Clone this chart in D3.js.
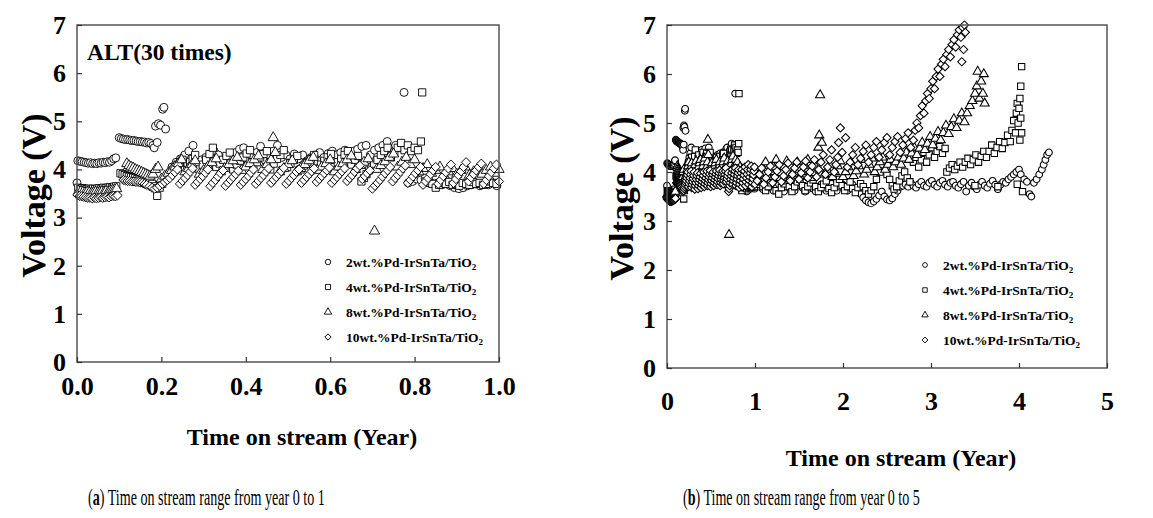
<!DOCTYPE html>
<html>
<head>
<meta charset="utf-8">
<script src="https://cdn.jsdelivr.net/npm/d3@7"></script>
<style>
  body { margin: 0; background: #fff; }
  svg { display: block; }
  text { font-family: "Liberation Serif", "Times New Roman", serif; font-weight: bold; fill: #000; }
  .caption { font-weight: normal; }
</style>
</head>
<body>
<svg id="chart" width="1153" height="518"></svg>
<script>

// series labels (legend order)
var seriesNames = ["2wt.%Pd-IrSnTa/TiO", "4wt.%Pd-IrSnTa/TiO", "8wt.%Pd-IrSnTa/TiO", "10wt.%Pd-IrSnTa/TiO"];

// [time on stream (year), voltage (V)]
var circ2 = [
  [0,3.72],[0.002,4.18],[0.007,4.17],[0.012,4.16],[0.017,4.15],[0.022,4.14],[0.027,4.13],[0.032,4.14],[0.037,4.12],[0.042,4.13],
  [0.047,4.12],[0.052,4.14],[0.057,4.13],[0.062,4.15],[0.067,4.14],[0.072,4.16],[0.077,4.15],[0.082,4.18],[0.087,4.22],[0.092,4.24],
  [0.1,4.66],[0.105,4.64],[0.11,4.63],[0.115,4.62],[0.12,4.62],[0.125,4.61],[0.13,4.6],[0.135,4.6],[0.14,4.59],[0.145,4.58],
  [0.15,4.58],[0.155,4.57],[0.16,4.57],[0.165,4.55],[0.17,4.56],[0.175,4.54],[0.18,4.5],[0.183,4.45],[0.186,4.9],[0.19,4.56],
  [0.193,4.95],[0.198,4.92],[0.203,5.25],[0.206,5.29],[0.21,4.84],
  [0.225,4.05],[0.235,4.15],[0.245,4.22],[0.255,4.3],[0.265,4.38],[0.275,4.5],[0.285,4.12],[0.295,4.2],[0.305,4.25],[0.315,4.32],
  [0.325,4.38],[0.335,4.3],[0.345,4.12],[0.355,4.2],[0.365,4.28],[0.375,4.35],[0.385,4.42],[0.395,4.45],[0.405,4.18],[0.415,4.25],
  [0.425,4.35],[0.435,4.48],[0.445,4.2],[0.455,4.3],[0.465,4.38],[0.475,4.5],[0.485,4.25],[0.495,4.3],[0.505,4.22],[0.515,4.32],
  [0.525,4.22],[0.535,4.3],[0.545,4.18],[0.555,4.25],[0.565,4.3],[0.575,4.35],[0.585,4.25],[0.595,4.33],[0.605,4.38],[0.615,4.3],
  [0.625,4.35],[0.635,4.4],[0.645,4.3],[0.655,4.38],[0.665,4.42],[0.675,4.48],[0.685,4.5],[0.695,4.3],[0.705,4.4],[0.715,4.45],
  [0.725,4.5],[0.735,4.58],[0.745,4.42],[0.755,4.5],[0.765,4.45],[0.775,5.6],
  [0.785,3.72],[0.795,3.75],[0.805,3.8],[0.815,3.78],[0.825,3.82],[0.835,3.75],[0.845,3.7],[0.855,3.72],[0.865,3.68],[0.875,3.7],
  [0.885,3.66],[0.895,3.62],[0.905,3.6],[0.915,3.62],[0.925,3.66],[0.935,3.68],[0.945,3.7],[0.955,3.66],[0.965,3.7],[0.975,3.68],
  [0.985,3.72],[0.995,3.66],
  [1.03,3.7],[1.06,3.75],[1.09,3.65],[1.12,3.72],[1.15,3.78],[1.18,3.68],[1.21,3.62],[1.24,3.7],[1.27,3.76],[1.3,3.66],
  [1.33,3.6],[1.36,3.7],[1.39,3.75],[1.42,3.66],[1.45,3.62],[1.48,3.72],[1.51,3.78],[1.54,3.68],[1.57,3.6],[1.6,3.65],
  [1.63,3.72],[1.66,3.66],[1.69,3.6],[1.72,3.68],[1.75,3.74],[1.78,3.66],[1.81,3.62],[1.84,3.7],[1.87,3.76],[1.9,3.68],
  [1.93,3.62],[1.96,3.7],[1.99,3.75],[2.02,3.66],[2.05,3.62],[2.08,3.7],[2.11,3.74],[2.14,3.65],[2.17,3.6],
  [2.2,3.55],[2.23,3.48],[2.26,3.42],[2.29,3.38],[2.32,3.36],[2.35,3.4],[2.38,3.45],[2.41,3.52],[2.44,3.6],[2.47,3.5],
  [2.5,3.44],[2.53,3.42],[2.56,3.46],[2.59,3.55],[2.62,3.62],[2.65,3.7],[2.68,3.72],
  [2.71,3.75],[2.74,3.7],[2.77,3.78],[2.8,3.72],[2.83,3.68],[2.86,3.75],[2.89,3.8],[2.92,3.72],[2.95,3.7],[2.98,3.78],
  [3.01,3.82],[3.04,3.74],[3.07,3.7],[3.1,3.78],[3.13,3.82],[3.16,3.74],[3.19,3.7],[3.22,3.78],[3.25,3.8],[3.28,3.72],
  [3.31,3.68],[3.34,3.75],[3.37,3.8],[3.4,3.6],[3.43,3.72],[3.46,3.78],[3.49,3.7],[3.52,3.65],[3.55,3.74],[3.58,3.8],
  [3.61,3.72],[3.64,3.68],[3.67,3.76],[3.7,3.82],[3.73,3.74],[3.76,3.65],[3.79,3.74],[3.82,3.8],[3.85,3.78],[3.88,3.85],
  [3.91,3.9],[3.94,3.95],[3.97,4.0],[4.0,4.05],[4.02,3.95],
  [4.06,3.85],[4.09,3.8],[4.12,3.55],[4.14,3.5],[4.17,3.78],[4.2,3.85],[4.23,3.95],[4.26,4.05],[4.28,4.15],[4.3,4.25],
  [4.32,4.35],[4.34,4.4]
];

var sq4 = [
  [0.003,3.62],[0.008,3.6],[0.013,3.61],[0.018,3.6],[0.023,3.59],[0.028,3.6],[0.033,3.58],[0.038,3.6],[0.043,3.59],[0.048,3.6],
  [0.053,3.61],[0.058,3.6],[0.063,3.62],[0.068,3.61],[0.073,3.62],[0.078,3.63],[0.083,3.62],[0.088,3.64],[0.093,3.65],
  [0.103,3.92],[0.108,3.9],[0.113,3.88],[0.118,3.86],[0.123,3.85],[0.128,3.84],[0.133,3.83],[0.138,3.82],[0.143,3.8],[0.148,3.79],
  [0.153,3.78],[0.158,3.77],[0.163,3.76],[0.168,3.75],[0.173,3.74],
  [0.178,3.7],[0.183,3.65],[0.19,3.45],[0.196,3.62],[0.202,3.7],[0.208,3.78],[0.214,3.85],[0.22,3.92],[0.226,3.98],[0.232,4.05],
  [0.238,4.1],[0.244,4.15],[0.25,4.2],[0.256,4.0],[0.262,4.08],[0.268,4.15],[0.274,4.22],[0.28,4.3],
  [0.29,4.0],[0.298,4.1],[0.306,4.2],[0.314,4.32],[0.322,4.45],[0.33,4.05],[0.338,4.12],[0.346,4.2],[0.354,4.28],[0.362,4.35],
  [0.37,4.0],[0.378,4.1],[0.386,4.18],[0.394,4.25],[0.402,4.33],[0.41,4.4],[0.418,4.05],[0.426,4.15],[0.434,4.25],[0.442,4.32],
  [0.45,4.38],[0.458,4.0],[0.466,4.12],[0.474,4.22],[0.482,4.3],[0.49,4.4],[0.498,4.05],[0.506,4.12],[0.514,4.2],[0.522,4.28],
  [0.53,4.0],[0.538,4.08],[0.546,4.15],[0.554,4.22],[0.562,4.3],[0.57,4.02],[0.578,4.1],[0.586,4.18],[0.594,4.25],[0.602,4.32],
  [0.61,4.05],[0.618,4.15],[0.626,4.22],[0.634,4.3],[0.642,4.38],[0.65,4.1],[0.658,4.2],[0.666,4.28],[0.674,3.75],[0.68,3.82],
  [0.686,3.9],[0.692,3.98],[0.698,4.05],[0.704,4.12],[0.712,4.2],[0.72,4.3],[0.728,4.38],[0.736,4.45],[0.744,4.25],[0.752,4.35],
  [0.76,4.45],[0.768,4.55],[0.776,4.4],[0.784,4.5],[0.792,4.38],[0.8,4.45],[0.808,4.4],[0.815,4.58],[0.818,5.6],
  [0.826,3.75],[0.834,3.72],[0.842,3.7],[0.85,3.62],[0.858,3.68],[0.866,3.72],[0.874,3.7],[0.882,3.74],[0.89,3.68],[0.898,3.7],
  [0.906,3.66],[0.914,3.72],[0.922,3.7],[0.93,3.68],[0.938,3.74],[0.946,3.7],[0.954,3.72],[0.962,3.68],[0.97,3.7],[0.978,3.75],
  [0.986,3.72],[0.994,3.7],
  [1.03,3.75],[1.06,3.8],[1.09,3.7],[1.12,3.62],[1.15,3.7],[1.18,3.78],[1.21,3.85],[1.24,3.62],[1.27,3.55],[1.3,3.68],
  [1.33,3.76],[1.36,3.82],[1.39,3.7],[1.42,3.6],[1.45,3.7],[1.48,3.8],[1.51,3.85],[1.54,3.72],[1.57,3.62],[1.6,3.7],
  [1.63,3.78],[1.66,3.84],[1.69,3.7],[1.72,3.6],[1.75,3.68],[1.78,3.75],[1.81,3.82],[1.84,3.66],[1.87,3.58],[1.9,3.68],
  [1.93,3.78],[1.96,3.85],[1.99,3.72],[2.02,3.62],[2.05,3.7],[2.08,3.8],[2.11,3.66],[2.14,3.58],[2.17,3.68],[2.2,3.76],
  [2.23,3.7],[2.26,3.62],[2.29,3.55],[2.32,3.62],[2.35,3.7],
  [2.38,3.85],[2.42,4.0],[2.45,4.15],[2.48,4.25],[2.5,3.95],[2.53,3.85],[2.56,3.72],[2.58,3.65],[2.61,3.7],[2.64,3.82],
  [2.67,3.92],[2.7,4.0],[2.73,3.88],[2.76,3.8],
  [2.8,4.2],[2.83,4.3],[2.86,4.1],[2.89,4.25],[2.92,4.4],[2.95,4.2],[2.98,4.35],[3.01,4.5],[3.04,4.3],[3.07,4.42],
  [3.1,4.52],[3.13,4.38],[3.16,4.48],
  [3.18,4.0],[3.21,4.08],[3.24,4.15],[3.27,4.05],[3.3,4.12],[3.33,4.2],[3.36,4.1],[3.39,4.2],[3.42,4.28],[3.45,4.15],
  [3.48,4.25],[3.5,3.72],[3.51,4.35],[3.54,4.2],[3.57,4.32],[3.6,4.42],[3.63,4.3],[3.66,4.42],[3.69,4.55],[3.72,4.38],
  [3.75,4.5],[3.76,3.7],[3.78,4.62],[3.81,4.48],[3.84,4.6],[3.87,4.75],[3.9,4.62],[3.92,4.85],[3.94,5.05],[3.96,4.8],
  [3.97,5.2],[3.98,5.4],[3.98,3.75],[3.99,5.0],[4.0,5.3],[4.01,4.65],[4.01,5.5],[4.02,5.1],[4.02,5.75],[4.03,6.15],
  [4.03,4.8],[4.04,3.6]
];

var tri8 = [
  [0.004,3.55],[0.009,3.54],[0.014,3.53],[0.019,3.52],[0.024,3.53],[0.029,3.52],[0.034,3.51],[0.039,3.52],[0.044,3.53],[0.049,3.52],
  [0.054,3.53],[0.059,3.54],[0.064,3.53],[0.069,3.55],[0.074,3.54],[0.079,3.56],[0.084,3.57],[0.089,3.58],[0.094,3.6],
  [0.118,4.12],[0.123,4.08],[0.128,4.05],[0.133,4.03],[0.138,4.0],[0.143,3.98],[0.148,3.96],[0.153,3.94],[0.158,3.92],[0.163,3.9],
  [0.168,3.88],[0.173,3.86],
  [0.18,3.9],[0.186,4.0],[0.192,4.05],[0.2,3.8],[0.208,3.86],[0.216,3.92],[0.224,3.98],[0.232,4.05],[0.24,4.12],[0.248,4.2],
  [0.256,3.95],[0.264,4.02],[0.272,4.1],[0.28,4.18],[0.29,3.9],[0.3,3.98],[0.31,4.06],[0.32,4.14],[0.33,4.22],[0.34,3.95],
  [0.35,4.02],[0.36,4.1],[0.37,4.18],[0.38,4.25],[0.39,3.98],[0.4,4.05],[0.41,4.12],[0.42,4.2],[0.43,4.28],[0.44,4.0],
  [0.45,4.1],[0.46,4.2],[0.465,4.66],[0.47,4.35],[0.48,3.95],[0.49,4.02],[0.5,4.1],[0.51,4.18],[0.52,3.95],[0.53,4.02],
  [0.54,4.1],[0.55,4.18],[0.56,4.25],[0.57,3.98],[0.58,4.05],[0.59,4.12],[0.6,4.2],[0.61,3.95],[0.62,4.05],[0.63,4.12],
  [0.64,4.2],[0.65,4.28],[0.66,4.0],[0.67,4.08],[0.68,4.15],[0.69,4.22],[0.705,2.72],[0.71,4.0],[0.72,4.08],[0.73,4.16],
  [0.74,4.25],[0.75,4.32],[0.76,4.05],[0.77,4.15],[0.78,4.25],[0.79,4.1],[0.8,4.2],
  [0.81,3.95],[0.82,4.02],[0.83,4.1],[0.84,3.92],[0.85,3.98],[0.86,4.05],[0.87,3.88],[0.88,3.95],[0.89,4.02],[0.9,3.9],
  [0.91,3.98],[0.92,4.05],[0.93,3.88],[0.94,3.95],[0.95,4.02],[0.96,3.9],[0.97,3.98],[0.98,4.05],[0.99,3.92],[1.0,4.0],
  [1.03,3.85],[1.06,3.95],[1.09,4.08],[1.12,4.2],[1.15,3.9],[1.18,4.0],[1.21,4.1],[1.24,4.25],[1.27,3.88],[1.3,3.98],
  [1.33,4.1],[1.36,4.22],[1.39,3.85],[1.42,3.95],[1.45,4.05],[1.48,4.2],[1.51,3.9],[1.54,4.0],[1.57,4.12],[1.6,4.25],
  [1.63,3.88],[1.66,3.98],[1.69,4.1],[1.72,4.5],[1.73,4.75],[1.74,5.57],[1.76,4.6],[1.79,3.95],[1.82,4.05],[1.85,4.15],
  [1.88,3.9],[1.91,4.0],[1.94,4.12],[1.97,4.22],[2.0,3.9],[2.03,4.0],[2.06,4.1],[2.09,4.2],[2.12,3.92],[2.15,4.02],
  [2.18,4.12],[2.21,4.25],[2.24,3.95],[2.27,4.05],[2.3,4.15],[2.33,4.28],[2.36,4.0],[2.39,4.1],[2.42,4.2],[2.45,4.3],
  [2.48,4.05],[2.51,4.15],[2.54,4.25],
  [2.57,4.1],[2.6,4.2],[2.63,4.3],[2.66,4.15],[2.69,4.28],[2.72,4.4],[2.75,4.25],[2.78,4.38],[2.81,4.5],[2.84,4.35],
  [2.87,4.48],[2.9,4.6],[2.93,4.45],[2.96,4.58],[2.99,4.72],[3.02,4.55],[3.05,4.68],[3.08,4.82],[3.11,4.65],[3.14,4.8],
  [3.17,4.95],[3.2,4.78],[3.23,4.92],[3.26,5.08],[3.29,4.9],[3.32,5.05],[3.35,5.2],[3.38,5.02],[3.41,5.2],[3.44,5.35],
  [3.47,5.45],[3.5,5.6],[3.52,5.75],[3.53,6.05],[3.55,5.5],[3.57,5.85],[3.59,5.6],[3.6,6.0],[3.61,5.4]
];

var dia10 = [
  [0.001,3.47],[0.006,3.45],[0.011,3.44],[0.016,3.43],[0.021,3.42],[0.026,3.41],[0.031,3.41],[0.036,3.4],[0.041,3.41],[0.046,3.4],
  [0.051,3.41],[0.056,3.42],[0.061,3.41],[0.066,3.42],[0.071,3.43],[0.076,3.42],[0.081,3.44],[0.086,3.45],[0.091,3.44],[0.096,3.46],
  [0.11,3.78],[0.115,3.77],[0.12,3.76],[0.125,3.76],[0.13,3.75],[0.135,3.75],[0.14,3.74],[0.145,3.74],[0.15,3.73],[0.155,3.72],
  [0.16,3.7],[0.165,3.68],
  [0.172,3.65],[0.178,3.62],[0.184,3.6],[0.19,3.62],[0.196,3.66],[0.202,3.7],[0.208,3.74],[0.214,3.78],[0.22,3.82],[0.226,3.88],
  [0.232,3.94],[0.238,4.0],[0.244,3.7],[0.25,3.76],[0.256,3.82],[0.262,3.88],[0.268,3.95],[0.274,4.02],[0.28,3.68],[0.286,3.74],
  [0.292,3.8],[0.298,3.86],[0.304,3.93],[0.31,4.0],[0.316,3.65],[0.322,3.72],[0.328,3.78],[0.334,3.85],[0.34,3.92],[0.346,3.98],
  [0.352,3.66],[0.358,3.72],[0.364,3.78],[0.37,3.84],[0.376,3.9],[0.382,3.97],[0.388,3.68],[0.394,3.74],[0.4,3.8],[0.406,3.86],
  [0.412,3.93],[0.418,4.0],[0.424,3.7],[0.43,3.76],[0.436,3.82],[0.442,3.88],[0.448,3.95],[0.454,4.02],[0.46,3.72],[0.466,3.78],
  [0.472,3.84],[0.478,3.9],[0.484,3.96],[0.49,4.03],[0.496,3.7],[0.502,3.76],[0.508,3.82],[0.514,3.88],[0.52,3.95],[0.526,4.0],
  [0.532,3.72],[0.538,3.78],[0.544,3.84],[0.55,3.9],[0.556,3.96],[0.562,4.02],[0.568,3.74],[0.574,3.8],[0.58,3.86],[0.586,3.92],
  [0.592,3.98],[0.598,4.04],[0.604,3.72],[0.61,3.78],[0.616,3.84],[0.622,3.9],[0.628,3.96],[0.634,4.02],[0.64,3.76],[0.646,3.82],
  [0.652,3.88],[0.658,3.95],[0.664,4.02],[0.67,4.08],[0.676,3.8],[0.682,3.86],[0.688,3.92],[0.694,3.98],[0.7,3.6],[0.706,3.66],
  [0.712,3.72],[0.718,3.78],[0.724,3.85],[0.73,3.92],[0.736,3.98],[0.742,4.05],[0.748,3.75],[0.754,3.82],[0.76,3.88],[0.766,3.95],
  [0.772,4.02],[0.778,4.08],[0.784,3.72],[0.79,3.78],[0.796,3.85],[0.802,3.92],[0.808,3.98],[0.814,4.05],[0.82,3.68],[0.826,3.75],
  [0.832,3.82],[0.838,3.9],[0.844,3.98],[0.85,4.05],[0.856,3.7],[0.862,3.78],[0.868,3.86],[0.874,3.94],[0.88,4.02],[0.886,4.1],
  [0.892,3.72],[0.898,3.8],[0.904,3.88],[0.91,3.96],[0.916,4.05],[0.922,4.15],[0.928,3.75],[0.934,3.83],[0.94,3.9],[0.946,3.98],
  [0.952,4.05],[0.958,4.12],[0.964,3.7],[0.97,3.78],[0.976,3.86],[0.982,3.94],[0.988,4.02],[0.994,4.1],[1.0,3.75],
  [1.025,3.82],[1.05,3.95],[1.075,4.08],[1.1,3.75],[1.125,3.88],[1.15,4.0],[1.175,4.12],[1.2,3.78],[1.225,3.9],[1.25,4.02],
  [1.275,4.15],[1.3,3.8],[1.325,3.92],[1.35,4.05],[1.375,4.18],[1.4,3.82],[1.425,3.95],[1.45,4.08],[1.475,4.2],[1.5,3.85],
  [1.525,3.98],[1.55,4.1],[1.575,4.22],[1.6,3.88],[1.625,4.0],[1.65,4.12],[1.675,4.25],[1.7,3.9],[1.725,4.05],[1.75,4.2],
  [1.775,4.35],[1.8,3.95],[1.825,4.1],[1.85,4.25],[1.87,4.45],[1.9,4.0],[1.92,4.15],[1.94,4.3],[1.95,4.6],[1.97,4.9],
  [1.99,4.4],[2.03,4.7],[2.05,4.1],
  [2.08,4.2],[2.11,4.35],[2.14,4.5],[2.17,4.15],[2.2,4.28],[2.23,4.42],[2.26,4.55],[2.29,4.2],[2.32,4.35],[2.35,4.5],
  [2.38,4.62],[2.41,4.3],[2.44,4.45],[2.47,4.6],[2.5,4.7],[2.53,4.35],[2.56,4.5],[2.59,4.62],[2.62,4.72],[2.65,4.4],
  [2.68,4.55],[2.71,4.68],[2.74,4.8],[2.77,4.5],[2.8,4.65],
  [2.82,4.85],[2.84,5.0],[2.86,4.9],[2.88,5.15],[2.9,5.35],[2.92,5.2],[2.94,5.45],[2.96,5.6],[2.98,5.5],[3.0,5.7],
  [3.02,5.85],[3.04,5.7],[3.06,5.95],[3.08,6.1],[3.1,5.95],[3.12,6.2],[3.14,6.3],[3.16,6.15],[3.18,6.4],[3.2,6.5],
  [3.22,6.35],[3.24,6.6],[3.26,6.7],[3.28,6.55],[3.3,6.8],[3.32,6.9],[3.34,6.75],[3.35,6.25],[3.36,6.95],[3.37,6.5],
  [3.38,7.0],[3.39,6.85]
];

var yTicks = [0, 1, 2, 3, 4, 5, 6, 7];
var xTicksA = [0, 0.2, 0.4, 0.6, 0.8, 1.0];
var xTicksB = [0, 1, 2, 3, 4, 5];

var allSeries = [circ2, sq4, tri8, dia10];
var symbols = [d3.symbolCircle, d3.symbolSquare, d3.symbolTriangle, d3.symbolSquare];

var svg = d3.select("#chart");

function drawPanel(opt) {
  var g = svg.append("g").attr("transform", "translate(" + opt.left + "," + opt.top + ")");
  var w = opt.width, h = opt.height;

  var x = d3.scaleLinear().domain(opt.xDomain).range([0, w]);
  var y = d3.scaleLinear().domain([0, 7]).range([h, 0]);

  var clipId = "clip" + opt.id;
  g.append("clipPath").attr("id", clipId)
    .append("rect").attr("x", -6).attr("y", -6).attr("width", w + 12).attr("height", h + 6);

  // markers: circles first, diamonds last (on top)
  var marks = g.append("g").attr("clip-path", "url(#" + clipId + ")");
  allSeries.forEach(function(data, i) {
    var sym = d3.symbol().type(symbols[i]).size(opt.size[i]);
    marks.append("g").selectAll("path")
      .data(data.filter(function(d) { return d[0] <= opt.xDomain[1] + 0.001; }))
      .enter().append("path")
      .attr("d", sym)
      .attr("transform", function(d) {
        return "translate(" + x(d[0]) + "," + y(d[1]) + ")" + (i == 3 ? " rotate(45)" : "");
      })
      .attr("fill", "#fff")
      .attr("stroke", "#000")
      .attr("stroke-width", opt.stroke);
  });

  // frame
  g.append("rect").attr("width", w).attr("height", h)
    .attr("fill", "none").attr("stroke", "#555").attr("stroke-width", 1.5);

  // axes with inward ticks
  var xAxis = g.append("g").attr("transform", "translate(0," + h + ")")
    .call(d3.axisBottom(x).tickValues(opt.xTicks).tickSize(-5).tickPadding(opt.xPad).tickFormat(opt.xFormat));
  var yAxis = g.append("g")
    .call(d3.axisLeft(y).tickValues(yTicks).tickSize(-5).tickPadding(opt.yPad).tickFormat(d3.format("d")));
  [xAxis, yAxis].forEach(function(a) {
    a.select(".domain").remove();
    a.selectAll("line").attr("stroke", "#333").attr("stroke-width", 1.2);
    a.selectAll("text").attr("font-size", 26).attr("font-family", "Liberation Serif, serif").attr("font-weight", "bold").attr("fill", "#000");
  });

  // axis titles
  g.append("text")
    .attr("x", w / 2 + 14).attr("y", opt.xTitleY)
    .attr("text-anchor", "middle").attr("font-size", 24)
    .text("Time on stream (Year)");
  g.append("text")
    .attr("transform", "translate(" + opt.yTitleX + "," + (h / 2 + 2) + ") rotate(-90)")
    .attr("text-anchor", "middle").attr("font-size", 34)
    .text("Voltage (V)");

  // legend
  var lg = g.append("g").attr("transform", "translate(" + opt.legX + "," + opt.legY + ")");
  seriesNames.forEach(function(name, i) {
    var row = lg.append("g").attr("transform", "translate(0," + (i * 25) + ")");
    row.append("path")
      .attr("d", d3.symbol().type(symbols[i]).size(opt.legSize[i]))
      .attr("transform", i == 3 ? "rotate(45)" : null)
      .attr("fill", "#fff").attr("stroke", "#000").attr("stroke-width", 0.9);
    var t = row.append("text").attr("x", 18).attr("y", 4.5).attr("font-size", 13.5);
    t.append("tspan").text(name);
    t.append("tspan").attr("font-size", 9).attr("dy", 3.5).text("2");
  });

  if (opt.note) {
    g.append("text").attr("x", 10).attr("y", 35).attr("font-size", 23.5).text(opt.note);
  }
}

drawPanel({
  id: "a", left: 77, top: 25, width: 422, height: 337,
  xDomain: [0, 1], xTicks: xTicksA, xFormat: d3.format(".1f"),
  xPad: 15, yPad: 11, xTitleY: 420, yTitleX: -32, stroke: 0.9,
  size: [50, 52, 46, 42], legSize: [24, 26, 24, 20],
  legX: 251, legY: 237, note: "ALT(30 times)"
});

drawPanel({
  id: "b", left: 667, top: 25, width: 440, height: 343,
  xDomain: [0, 5], xTicks: xTicksB, xFormat: d3.format("d"),
  xPad: 24, yPad: 11, xTitleY: 441, yTitleX: -34, stroke: 1.05,
  size: [36, 40, 36, 34], legSize: [18, 20, 18, 17],
  legX: 258, legY: 240
});

// captions: one text each, squeezed horizontally to the reference width
function caption(x, letter, rest) {
  var g = svg.append("g");
  var t = g.append("text").attr("class", "caption").attr("font-size", 23);
  t.append("tspan").text("(");
  t.append("tspan").attr("font-weight", "bold").text(letter);
  t.append("tspan").text(") " + rest);
  var k = 237 / t.node().getComputedTextLength();
  g.attr("transform", "translate(" + x + ",505) scale(" + k + ",1)");
}
caption(88, "a", "Time on stream range from year 0 to 1");
caption(683, "b", "Time on stream range from year 0 to 5");

</script>
</body>
</html>
